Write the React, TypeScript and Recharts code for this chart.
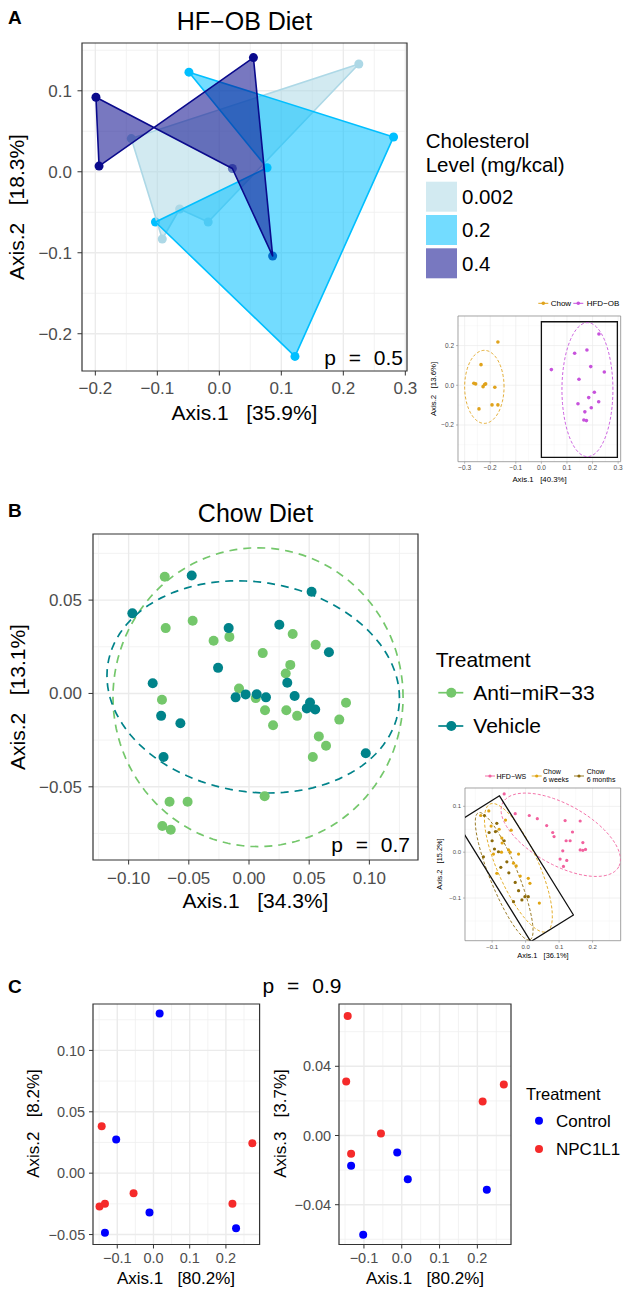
import React from "react";
import { ScatterChart, Scatter, XAxis, YAxis, CartesianGrid, ReferenceArea } from "recharts";

const FONT = '"Liberation Sans", Arial, Helvetica, sans-serif';

// ---------- panel A : HF-OB diet ----------
const cholLevels = ["0.002", "0.2", "0.4"];
const cholColors = ["#ADD8E6", "#00BFFF", "#0A0A8C"];
const hfobLow = [
  { x: -0.142, y: 0.041 }, { x: 0.225, y: 0.133 }, { x: -0.018, y: -0.062 },
  { x: -0.064, y: -0.046 }, { x: -0.092, y: -0.083 },
];
const hfobMid = [
  { x: -0.049, y: 0.123 }, { x: 0.281, y: 0.043 }, { x: 0.122, y: -0.228 },
  { x: -0.103, y: -0.062 }, { x: 0.077, y: 0.005 },
];
const hfobHigh = [
  { x: -0.199, y: 0.092 }, { x: -0.194, y: 0.007 }, { x: 0.055, y: 0.141 },
  { x: 0.086, y: -0.104 }, { x: 0.021, y: 0.004 },
];
const aXTicks = [-0.2, -0.1, 0, 0.1, 0.2, 0.3];
const aXLabels = ["−0.2", "−0.1", "0.0", "0.1", "0.2", "0.3"];
const aXMinor = [-0.15, -0.05, 0.05, 0.15, 0.25];
const aYTicks = [-0.2, -0.1, 0, 0.1];
const aYLabels = ["−0.2", "−0.1", "0.0", "0.1"];
const aYMinor = [-0.15, -0.05, 0.05, 0.15];

// inset of panel A (Chow vs HFD-OB)
const insAGroups = ["Chow", "HFD−OB"];
const insAColors = ["#E0A31C", "#C752DC"];
const insAChow = [
  { x: -0.17, y: 0.218 }, { x: -0.236, y: 0.104 }, { x: -0.264, y: 0.01 }, { x: -0.257, y: 0.007 },
  { x: -0.218, y: 0.007 }, { x: -0.228, y: -0.007 }, { x: -0.222, y: 0.004 }, { x: -0.182, y: -0.01 },
  { x: -0.193, y: -0.099 }, { x: -0.17, y: -0.099 }, { x: -0.244, y: -0.119 },
];
const insAHfd = [
  { x: 0.225, y: 0.258 }, { x: 0.13, y: 0.161 }, { x: 0.178, y: 0.178 }, { x: 0.039, y: 0.079 },
  { x: 0.193, y: 0.094 }, { x: 0.246, y: 0.067 }, { x: 0.147, y: 0.03 }, { x: 0.207, y: -0.035 },
  { x: 0.185, y: -0.062 }, { x: 0.224, y: -0.083 }, { x: 0.143, y: -0.093 }, { x: 0.195, y: -0.113 },
  { x: 0.17, y: -0.134 }, { x: 0.166, y: -0.175 }, { x: 0.176, y: -0.178 },
];
// ellipses: centre, end of first semi-axis, end of second semi-axis
const insAChowEll = [{ x: -0.223, y: -0.008 }, { x: -0.146, y: -0.008 }, { x: -0.223, y: 0.176 }];
const insAHfdEll = [{ x: 0.18, y: -0.022 }, { x: 0.2796, y: -0.022 }, { x: 0.18, y: 0.3155 }];
const insABox = { x1: 0, x2: 0.297, y1: -0.363, y2: 0.32 };
const insAXTicks = [-0.3, -0.2, -0.1, 0, 0.1, 0.2, 0.3];
const insAXLabels = ["−0.3", "−0.2", "−0.1", "0.0", "0.1", "0.2", "0.3"];
const insAXMinor = [-0.25, -0.15, -0.05, 0.05, 0.15, 0.25];
const insAYTicks = [-0.2, 0, 0.2];
const insAYLabels = ["−0.2", "0.0", "0.2"];
const insAYMinor = [-0.3, -0.1, 0.1, 0.3];

// ---------- panel B : Chow diet ----------
const treatB = ["Anti−miR−33", "Vehicle"];
const treatBColors = ["#74C76B", "#00838A"];
const antiMir = [
  { x: -0.07, y: 0.0625 }, { x: -0.0692, y: 0.035 }, { x: -0.0468, y: 0.0389 }, { x: -0.0294, y: 0.0282 },
  { x: -0.0163, y: 0.0303 }, { x: 0.0114, y: 0.0216 }, { x: 0.0363, y: 0.0318 }, { x: 0.0554, y: 0.0261 },
  { x: 0.0343, y: 0.0153 }, { x: 0.0305, y: 0.0107 }, { x: -0.0083, y: 0.0027 }, { x: 0.0056, y: -0.0025 },
  { x: -0.0723, y: -0.0034 }, { x: 0.0806, y: -0.005 }, { x: 0.0133, y: -0.009 }, { x: 0.031, y: -0.009 },
  { x: -0.066, y: -0.058 }, { x: -0.051, y: -0.058 }, { x: -0.072, y: -0.071 }, { x: -0.065, y: -0.073 },
  { x: 0.013, y: -0.055 }, { x: 0.02, y: -0.017 }, { x: 0.04, y: -0.012 }, { x: 0.058, y: -0.023 },
  { x: 0.064, y: -0.028 }, { x: 0.053, y: -0.034 }, { x: 0.075, y: -0.014 },
];
const vehicle = [
  { x: -0.0969, y: 0.0429 }, { x: -0.0476, y: 0.0632 }, { x: 0.052, y: 0.0545 }, { x: -0.0169, y: 0.035 },
  { x: 0.0252, y: 0.0368 }, { x: 0.0664, y: 0.0221 }, { x: -0.0257, y: 0.0137 }, { x: -0.08, y: 0.0055 },
  { x: 0.0318, y: 0.0057 }, { x: -0.0111, y: -0.0021 }, { x: -0.0028, y: -0.0005 }, { x: 0.0064, y: -0.0004 },
  { x: 0.0141, y: -0.0021 }, { x: 0.0379, y: -0.0014 }, { x: 0.0507, y: -0.0048 }, { x: 0.048, y: -0.008 },
  { x: 0.055, y: -0.0086 }, { x: -0.073, y: -0.012 }, { x: -0.057, y: -0.016 }, { x: -0.071, y: -0.034 },
  { x: 0.097, y: -0.032 },
];
const antiMirEll = [{ x: 0.0075, y: -0.002 }, { x: 0.128, y: -0.002 }, { x: 0.0075, y: 0.078 }];
const vehicleEll = [{ x: 0.0035, y: 0.0035 }, { x: 0.125, y: -0.0025 }, { x: 0.0035, y: 0.06 }];
const bXTicks = [-0.1, -0.05, 0, 0.05, 0.1];
const bXLabels = ["−0.10", "−0.05", "0.00", "0.05", "0.10"];
const bXMinor = [-0.125, -0.075, -0.025, 0.025, 0.075, 0.125];
const bYTicks = [-0.05, 0, 0.05];
const bYLabels = ["−0.05", "0.00", "0.05"];
const bYMinor = [-0.075, -0.025, 0.025, 0.075];

// inset of panel B (HFD-WS vs chow 6 weeks / 6 months)
const insBColors = ["#F2619E", "#E0A411", "#8C6A0A"];
const insBWs = [
  { x: -0.064, y: 0.127 }, { x: 0.011, y: 0.08 }, { x: 0.035, y: 0.073 }, { x: 0.063, y: 0.058 },
  { x: 0.118, y: 0.069 }, { x: 0.163, y: 0.068 }, { x: 0.081, y: 0.043 }, { x: 0.085, y: 0.034 },
  { x: 0.14, y: 0.044 }, { x: 0.121, y: 0.025 }, { x: 0.133, y: 0.025 }, { x: 0.171, y: 0.021 },
  { x: 0.163, y: 0.005 }, { x: 0.171, y: 0.004 }, { x: 0.179, y: 0.006 }, { x: 0.111, y: 0.003 },
  { x: 0.113, y: -0.031 }, { x: 0.123, y: -0.018 }, { x: 0.103, y: -0.015 }, { x: -0.031, y: 0.084 },
];
const insBWeeks = [
  { x: -0.134, y: 0.08 }, { x: -0.103, y: 0.057 }, { x: -0.079, y: 0.05 }, { x: -0.071, y: 0.031 },
  { x: -0.07, y: 0.02 }, { x: -0.051, y: 0.005 }, { x: -0.021, y: -0.004 }, { x: -0.043, y: 0.048 },
  { x: -0.096, y: -0.004 }, { x: -0.072, y: 0.0 }, { x: -0.046, y: 0.0 }, { x: -0.036, y: -0.024 },
  { x: -0.028, y: -0.03 }, { x: -0.016, y: -0.052 }, { x: 0.008, y: -0.057 }, { x: 0.013, y: -0.068 },
  { x: 0.041, y: -0.111 }, { x: -0.086, y: -0.046 }, { x: -0.06, y: 0.07 }, { x: -0.11, y: 0.09 },
];
const insBMonths = [
  { x: -0.123, y: 0.08 }, { x: -0.109, y: 0.043 }, { x: -0.09, y: 0.045 }, { x: -0.093, y: 0.007 },
  { x: -0.081, y: 0.001 }, { x: -0.064, y: 0.025 }, { x: -0.086, y: 0.063 }, { x: -0.126, y: -0.01 },
  { x: -0.056, y: -0.021 }, { x: -0.031, y: -0.066 }, { x: -0.021, y: -0.084 }, { x: -0.002, y: -0.097 },
  { x: -0.036, y: -0.108 }, { x: 0.008, y: -0.097 }, { x: -0.011, y: -0.104 }, { x: -0.074, y: -0.033 },
  { x: -0.1, y: 0.025 }, { x: -0.05, y: -0.045 },
];
const insBWsEll = [{ x: 0.105, y: 0.038 }, { x: 0.278, y: -0.032 }, { x: 0.062, y: -0.02 }];
const insBWeeksEll = [{ x: -0.0215, y: -0.034 }, { x: 0.063, y: -0.173 }, { x: 0.0345, y: -0.016 }];
const insBMonthsEll = [{ x: -0.064, y: -0.0525 }, { x: 0.013, y: -0.191 }, { x: -0.0252, y: -0.0409 }];
const insBBox = [
  { x: -0.205, y: 0.065 }, { x: -0.078, y: 0.123 }, { x: 0.143, y: -0.137 }, { x: 0.0155, y: -0.195 },
];
const insBXTicks = [-0.1, 0, 0.1, 0.2];
const insBXLabels = ["−0.1", "0.0", "0.1", "0.2"];
const insBXMinor = [-0.15, -0.05, 0.05, 0.15, 0.25];
const insBYTicks = [-0.1, 0, 0.1];
const insBYLabels = ["−0.1", "0.0", "0.1"];
const insBYMinor = [-0.15, -0.05, 0.05];

// ---------- panel C : NPC1L1 ----------
const treatC = ["Control", "NPC1L1"];
const treatCColors = ["#0000FF", "#F52A2A"];
const c12Control = [
  { x: 0.017, y: 0.13 }, { x: -0.103, y: 0.0274 }, { x: -0.011, y: -0.032 },
  { x: -0.134, y: -0.0486 }, { x: 0.228, y: -0.0448 },
];
const c12Npc = [
  { x: -0.143, y: 0.0383 }, { x: -0.055, y: -0.0163 }, { x: -0.149, y: -0.0271 },
  { x: -0.134, y: -0.0249 }, { x: 0.218, y: -0.0249 }, { x: 0.273, y: 0.0244 },
];
const c13Control = [
  { x: -0.134, y: -0.0175 }, { x: -0.012, y: -0.0098 }, { x: 0.016, y: -0.0253 },
  { x: 0.225, y: -0.0314 }, { x: -0.102, y: -0.0574 },
];
const c13Npc = [
  { x: -0.143, y: 0.069 }, { x: -0.147, y: 0.0312 }, { x: -0.055, y: 0.0012 },
  { x: -0.134, y: -0.0106 }, { x: 0.214, y: 0.0197 }, { x: 0.27, y: 0.0295 },
];
const cXTicks = [-0.1, 0, 0.1, 0.2];
const cXLabels = ["−0.1", "0.0", "0.1", "0.2"];
const cXMinor = [-0.15, -0.05, 0.05, 0.15, 0.25];
const c12YTicks = [-0.05, 0, 0.05, 0.1];
const c12YLabels = ["−0.05", "0.00", "0.05", "0.10"];
const c12YMinor = [-0.025, 0.025, 0.075, 0.125];
const c13YTicks = [-0.04, 0, 0.04];
const c13YLabels = ["−0.04", "0.00", "0.04"];
const c13YMinor = [-0.06, -0.02, 0.02, 0.06];

// ---------- helpers ----------
type Box = { l: number; t: number; r: number; b: number };

const labeler = (ticks: number[], labels: string[]) => (v: number) => {
  const i = ticks.findIndex((t) => Math.abs(t - v) < 1e-9);
  return i < 0 ? "" : labels[i];
};

const noMark = () => <g />;
const dot = (r: number, c: string) => (p: any) => <circle cx={p.cx} cy={p.cy} r={r} fill={c} />;

const polyLine = (stroke: string, fill: string, opacity: number, width: number) => (props: any) => {
  const pts: { x: number; y: number }[] = props.points || [];
  if (!pts.length) return <g />;
  const d = pts.map((p, i) => `${i === 0 ? "M" : "L"}${p.x},${p.y}`).join(" ") + " Z";
  return <path d={d} fill={fill} fillOpacity={opacity} stroke={stroke} strokeWidth={width} strokeLinejoin="round" />;
};

const ellipseLine = (stroke: string, width: number, dash: string) => (props: any) => {
  const pts: { x: number; y: number }[] = props.points || [];
  if (pts.length < 3) return <g />;
  const [c, a, b] = pts;
  const ax = a.x - c.x, ay = a.y - c.y, bx = b.x - c.x, by = b.y - c.y;
  let d = "";
  for (let i = 0; i <= 120; i++) {
    const t = (i / 120) * Math.PI * 2;
    const x = c.x + ax * Math.cos(t) + bx * Math.sin(t);
    const y = c.y + ay * Math.cos(t) + by * Math.sin(t);
    d += `${i === 0 ? "M" : "L"}${x.toFixed(2)},${y.toFixed(2)} `;
  }
  return <path d={d} fill="none" stroke={stroke} strokeWidth={width} strokeDasharray={dash} />;
};

interface PlotProps {
  box: Box;
  xDomain: [number, number];
  yDomain: [number, number];
  xTicks: number[];
  yTicks: number[];
  xMinor: number[];
  yMinor: number[];
  xLabels: string[];
  yLabels: string[];
  font: number;
  tickLen: number;
  xGap: number;
  yGap: number;
  thin?: boolean;
  children: React.ReactNode;
}

function Plot(p: PlotProps) {
  const yw = 70, xh = 40, m = 6, mr = 24;
  const pw = p.box.r - p.box.l, ph = p.box.b - p.box.t;
  const border = p.thin ? "#8C8C8C" : "#333333";
  return (
    <div style={{ position: "absolute", left: p.box.l - yw, top: p.box.t - m }}>
      <ScatterChart width={yw + pw + mr} height={m + ph + xh} margin={{ top: m, right: mr, bottom: 0, left: 0 }}>
        <CartesianGrid verticalValues={p.xMinor} horizontalValues={p.yMinor} stroke="#F0F0F0" strokeWidth={p.thin ? 0.4 : 0.8} />
        <CartesianGrid verticalValues={p.xTicks} horizontalValues={p.yTicks} stroke="#EBEBEB" strokeWidth={p.thin ? 0.7 : 1.4} />
        <XAxis
          type="number"
          dataKey="x"
          domain={p.xDomain}
          allowDataOverflow
          ticks={p.xTicks}
          interval={0}
          height={xh}
          axisLine={false}
          tickSize={p.tickLen}
          tickMargin={p.xGap}
          tickLine={{ stroke: border, strokeWidth: p.thin ? 0.6 : 1 }}
          tick={{ fontSize: p.font, fill: "#4D4D4D" }}
          tickFormatter={labeler(p.xTicks, p.xLabels)}
        />
        <YAxis
          type="number"
          dataKey="y"
          domain={p.yDomain}
          allowDataOverflow
          ticks={p.yTicks}
          interval={0}
          width={yw}
          axisLine={false}
          tickSize={p.tickLen}
          tickMargin={p.yGap}
          tickLine={{ stroke: border, strokeWidth: p.thin ? 0.6 : 1 }}
          tick={{ fontSize: p.font, fill: "#4D4D4D" }}
          tickFormatter={labeler(p.yTicks, p.yLabels)}
        />
        {p.children}
        <ReferenceArea
          x1={p.xDomain[0]}
          x2={p.xDomain[1]}
          y1={p.yDomain[0]}
          y2={p.yDomain[1]}
          fill="none"
          stroke={border}
          strokeWidth={p.thin ? 0.8 : 1.2}
          ifOverflow="visible"
        />
      </ScatterChart>
    </div>
  );
}

function T({ x, y, s, size, anchor = "start", bold = false, fill = "#000", rot = false, ws = 0 }: any) {
  return (
    <text
      x={x}
      y={y}
      fontSize={size}
      textAnchor={anchor}
      fontWeight={bold ? "bold" : "normal"}
      fill={fill}
      transform={rot ? `rotate(-90 ${x} ${y})` : undefined}
      style={{ whiteSpace: "pre", wordSpacing: ws }}
    >
      {s}
    </text>
  );
}

export default function App() {
  return (
    <div style={{ position: "absolute", left: 0, top: 0, width: 630, height: 1295, background: "#fff", fontFamily: FONT, overflow: "hidden" }}>
      {/* A main */}
      <Plot
        box={{ l: 82, t: 43, r: 407, b: 371 }}
        xDomain={[-0.2215, 0.3027]}
        yDomain={[-0.246, 0.159]}
        xTicks={aXTicks}
        yTicks={aYTicks}
        xMinor={aXMinor}
        yMinor={aYMinor}
        xLabels={aXLabels}
        yLabels={aYLabels}
        font={17}
        tickLen={4.5}
        xGap={6}
        yGap={5.5}
      >
        <Scatter data={hfobLow} shape={dot(4.5, cholColors[0])} isAnimationActive={false} />
        <Scatter data={hfobMid} shape={dot(4.5, cholColors[1])} isAnimationActive={false} />
        <Scatter data={hfobHigh} shape={dot(4.5, cholColors[2])} isAnimationActive={false} />
        <Scatter data={hfobLow} shape={noMark} line={polyLine(cholColors[0], cholColors[0], 0.55, 1.6)} isAnimationActive={false} />
        <Scatter data={hfobMid} shape={noMark} line={polyLine(cholColors[1], cholColors[1], 0.55, 1.6)} isAnimationActive={false} />
        <Scatter data={hfobHigh} shape={noMark} line={polyLine(cholColors[2], cholColors[2], 0.55, 1.6)} isAnimationActive={false} />
      </Plot>

      {/* A inset */}
      <Plot
        box={{ l: 458.3, t: 316, r: 621, b: 461.7 }}
        xDomain={[-0.326, 0.31]}
        yDomain={[-0.385, 0.349]}
        xTicks={insAXTicks}
        yTicks={insAYTicks}
        xMinor={insAXMinor}
        yMinor={insAYMinor}
        xLabels={insAXLabels}
        yLabels={insAYLabels}
        font={6.5}
        tickLen={2}
        xGap={2}
        yGap={2}
        thin
      >
        <Scatter data={insAChowEll} shape={noMark} line={ellipseLine(insAColors[0], 0.9, "3 2")} isAnimationActive={false} />
        <Scatter data={insAHfdEll} shape={noMark} line={ellipseLine(insAColors[1], 0.9, "3 2")} isAnimationActive={false} />
        <Scatter data={insAChow} shape={dot(1.8, insAColors[0])} isAnimationActive={false} />
        <Scatter data={insAHfd} shape={dot(1.8, insAColors[1])} isAnimationActive={false} />
        <ReferenceArea {...insABox} fill="none" stroke="#111" strokeWidth={1.3} ifOverflow="visible" />
      </Plot>

      {/* B main */}
      <Plot
        box={{ l: 93, t: 534, r: 418, b: 860 }}
        xDomain={[-0.1296, 0.1404]}
        yDomain={[-0.0892, 0.0854]}
        xTicks={bXTicks}
        yTicks={bYTicks}
        xMinor={bXMinor}
        yMinor={bYMinor}
        xLabels={bXLabels}
        yLabels={bYLabels}
        font={17}
        tickLen={4.5}
        xGap={7}
        yGap={6.5}
      >
        <Scatter data={antiMirEll} shape={noMark} line={ellipseLine(treatBColors[0], 1.7, "8 6")} isAnimationActive={false} />
        <Scatter data={vehicleEll} shape={noMark} line={ellipseLine(treatBColors[1], 1.7, "8 6")} isAnimationActive={false} />
        <Scatter data={antiMir} shape={dot(5, treatBColors[0])} isAnimationActive={false} />
        <Scatter data={vehicle} shape={dot(5, treatBColors[1])} isAnimationActive={false} />
      </Plot>

      {/* B inset */}
      <Plot
        box={{ l: 465, t: 788, r: 620.7, b: 940.7 }}
        xDomain={[-0.181, 0.284]}
        yDomain={[-0.193, 0.14]}
        xTicks={insBXTicks}
        yTicks={insBYTicks}
        xMinor={insBXMinor}
        yMinor={insBYMinor}
        xLabels={insBXLabels}
        yLabels={insBYLabels}
        font={6}
        tickLen={2}
        xGap={2}
        yGap={2}
        thin
      >
        <Scatter data={insBWsEll} shape={noMark} line={ellipseLine(insBColors[0], 0.9, "3 2")} isAnimationActive={false} />
        <Scatter data={insBWeeksEll} shape={noMark} line={ellipseLine(insBColors[1], 0.9, "3 2")} isAnimationActive={false} />
        <Scatter data={insBMonthsEll} shape={noMark} line={ellipseLine(insBColors[2], 0.9, "3 2")} isAnimationActive={false} />
        <Scatter data={insBWs} shape={dot(1.6, insBColors[0])} isAnimationActive={false} />
        <Scatter data={insBWeeks} shape={dot(1.6, insBColors[1])} isAnimationActive={false} />
        <Scatter data={insBMonths} shape={dot(1.6, insBColors[2])} isAnimationActive={false} />
        <Scatter data={insBBox} shape={noMark} line={polyLine("#111", "none", 0, 1.3)} isAnimationActive={false} />
      </Plot>

      {/* C left: axis 1 vs 2 */}
      <Plot
        box={{ l: 92.7, t: 1003.5, r: 259.3, b: 1244 }}
        xDomain={[-0.167, 0.293]}
        yDomain={[-0.0581, 0.1378]}
        xTicks={cXTicks}
        yTicks={c12YTicks}
        xMinor={cXMinor}
        yMinor={c12YMinor}
        xLabels={cXLabels}
        yLabels={c12YLabels}
        font={14.5}
        tickLen={4}
        xGap={4.5}
        yGap={3.8}
      >
        <Scatter data={c12Control} shape={dot(4, treatCColors[0])} isAnimationActive={false} />
        <Scatter data={c12Npc} shape={dot(4, treatCColors[1])} isAnimationActive={false} />
      </Plot>

      {/* C right: axis 1 vs 3 */}
      <Plot
        box={{ l: 339, t: 1003.5, r: 511, b: 1244 }}
        xDomain={[-0.166, 0.289]}
        yDomain={[-0.063, 0.076]}
        xTicks={cXTicks}
        yTicks={c13YTicks}
        xMinor={cXMinor}
        yMinor={c13YMinor}
        xLabels={cXLabels}
        yLabels={c13YLabels}
        font={14.5}
        tickLen={4}
        xGap={4.5}
        yGap={3.8}
      >
        <Scatter data={c13Control} shape={dot(4, treatCColors[0])} isAnimationActive={false} />
        <Scatter data={c13Npc} shape={dot(4, treatCColors[1])} isAnimationActive={false} />
      </Plot>

      <svg width={630} height={1295} style={{ position: "absolute", left: 0, top: 0, pointerEvents: "none" }}>
        {/* panel A text */}
        <T x={8} y={23.5} s="A" size={19} bold />
        <T x={244.5} y={30} s="HF−OB Diet" size={25} anchor="middle" />
        <T x={244.5} y={420} s="Axis.1   [35.9%]" size={21} anchor="middle" />
        <T x={24} y={207} s="Axis.2   [18.3%]" size={21} anchor="middle" rot />
        <T x={403} y={365} s="p = 0.5" size={21} anchor="end" ws={7} />
        <T x={425.7} y={148} s="Cholesterol" size={20.5} />
        <T x={425.7} y={171.5} s="Level (mg/kcal)" size={20.5} />
        {cholLevels.map((lv, i) => (
          <g key={lv}>
            <rect x={426} y={181.7 + i * 33.3} width={31} height={30} fill={cholColors[i]} fillOpacity={0.55} />
            <T x={462} y={204 + i * 33.3} s={lv} size={20.5} />
          </g>
        ))}
        {/* inset A legend + titles */}
        {insAGroups.map((g, i) => (
          <g key={g}>
            <line x1={538.3 + i * 35} x2={548.3 + i * 35} y1={303.3} y2={303.3} stroke={insAColors[i]} strokeWidth={1} />
            <circle cx={543.3 + i * 35} cy={303.3} r={1.8} fill={insAColors[i]} />
            <T x={550.7 + i * 36} y={306} s={g} size={8} />
          </g>
        ))}
        <T x={539.5} y={481.5} s="Axis.1   [40.3%]" size={7.8} anchor="middle" />
        <T x={436} y={389} s="Axis.2   [13.6%]" size={7.8} anchor="middle" rot />

        {/* panel B text */}
        <T x={8} y={516.7} s="B" size={19} bold />
        <T x={255.5} y={521.7} s="Chow Diet" size={25} anchor="middle" />
        <T x={255.5} y={908} s="Axis.1   [34.3%]" size={21} anchor="middle" />
        <T x={25} y={697} s="Axis.2   [13.1%]" size={21} anchor="middle" rot />
        <T x={410} y={852} s="p = 0.7" size={21} anchor="end" ws={7} />
        <T x={435.7} y={666.7} s="Treatment" size={21} />
        {treatB.map((g, i) => (
          <g key={g}>
            <line x1={438.3} x2={463.3} y1={692.7 + i * 33.3} y2={692.7 + i * 33.3} stroke={treatBColors[i]} strokeWidth={1.7} />
            <circle cx={451.3} cy={692.7 + i * 33.3} r={5} fill={treatBColors[i]} />
            <T x={473.3} y={700 + i * 33} s={g} size={21} />
          </g>
        ))}
        {/* inset B legend + titles */}
        <line x1={485} x2={495} y1={776} y2={776} stroke={insBColors[0]} strokeWidth={0.9} />
        <circle cx={490} cy={776} r={1.6} fill={insBColors[0]} />
        <T x={496.5} y={778.5} s="HFD−WS" size={7} />
        <line x1={531.7} x2={541.7} y1={776} y2={776} stroke={insBColors[1]} strokeWidth={0.9} />
        <circle cx={536.7} cy={776} r={1.6} fill={insBColors[1]} />
        <T x={543} y={774} s="Chow" size={7} />
        <T x={543} y={781.5} s="6 weeks" size={7} />
        <line x1={574} x2={584} y1={776} y2={776} stroke={insBColors[2]} strokeWidth={0.9} />
        <circle cx={579} cy={776} r={1.6} fill={insBColors[2]} />
        <T x={586.7} y={774} s="Chow" size={7} />
        <T x={586.7} y={781.5} s="6 months" size={7} />
        <T x={543} y={958} s="Axis.1   [36.1%]" size={7.4} anchor="middle" />
        <T x={442} y={864} s="Axis.2   [15.2%]" size={7.4} anchor="middle" rot />

        {/* panel C text */}
        <T x={8} y={993} s="C" size={19} bold />
        <T x={302} y={993} s="p = 0.9" size={21} anchor="middle" ws={7} />
        <T x={176} y={1284} s="Axis.1   [80.2%]" size={17} anchor="middle" />
        <T x={425} y={1284} s="Axis.1   [80.2%]" size={17} anchor="middle" />
        <T x={39} y={1123.5} s="Axis.2   [8.2%]" size={17} anchor="middle" rot />
        <T x={286} y={1123.5} s="Axis.3   [3.7%]" size={17} anchor="middle" rot />
        <T x={526} y={1100} s="Treatment" size={16.5} />
        {treatC.map((g, i) => (
          <g key={g}>
            <circle cx={539} cy={1120.7 + i * 28.3} r={4} fill={treatCColors[i]} />
            <T x={556} y={1127 + i * 28.3} s={g} size={17} />
          </g>
        ))}
      </svg>
    </div>
  );
}
